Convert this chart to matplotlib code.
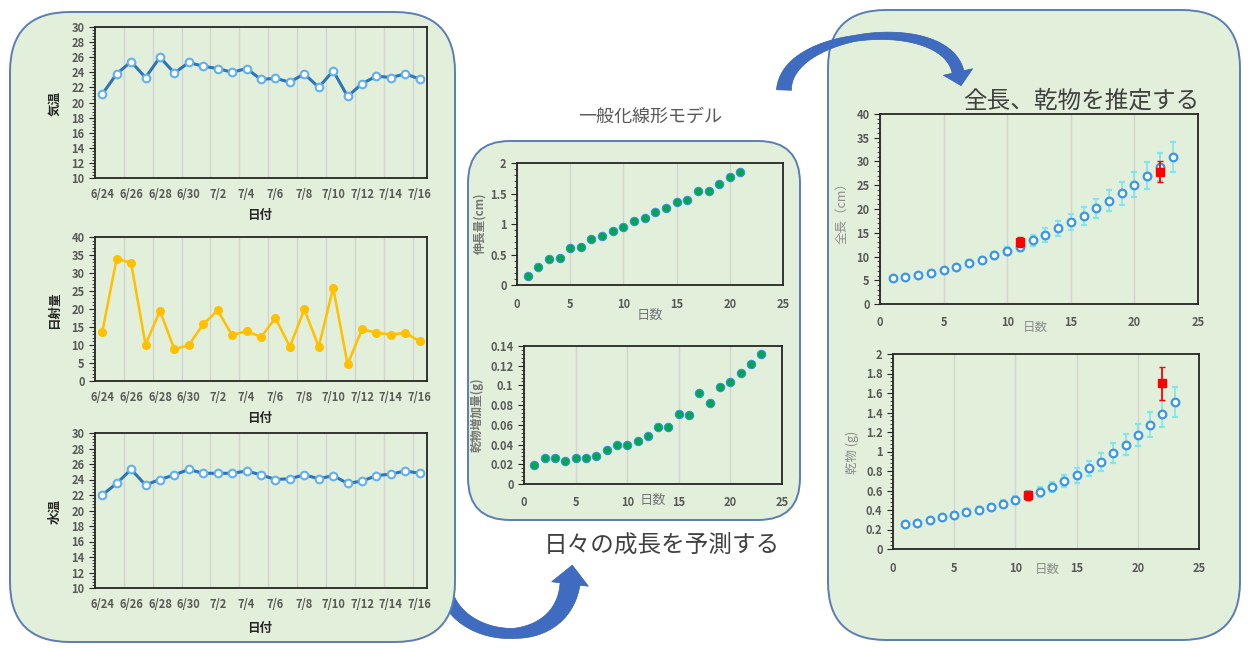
import numpy as np
import matplotlib
matplotlib.use('Agg')
import matplotlib.pyplot as plt
from matplotlib.patches import FancyBboxPatch, Polygon
from matplotlib.ticker import MultipleLocator, AutoMinorLocator, FuncFormatter

plt.rcParams['font.family'] = ['Noto Sans CJK JP', 'DejaVu Sans']

W, H = 1249, 648

# daily weather 6/24 - 7/16
dates = ['6/24', '6/25', '6/26', '6/27', '6/28', '6/29', '6/30', '7/1', '7/2',
         '7/3', '7/4', '7/5', '7/6', '7/7', '7/8', '7/9', '7/10', '7/11',
         '7/12', '7/13', '7/14', '7/15', '7/16']
air_temp = [21.1, 23.8, 25.4, 23.3, 26.0, 23.9, 25.3, 24.8, 24.5, 24.0, 24.5,
            23.05, 23.2, 22.7, 23.8, 22.0, 24.2, 20.8, 22.5, 23.5, 23.3, 23.8, 23.1]
solar = [13.5, 34.0, 32.8, 10.1, 19.5, 8.8, 10.0, 15.8, 19.6, 12.7, 13.9, 12.2,
         17.5, 9.5, 19.9, 9.5, 25.9, 4.6, 14.4, 13.4, 12.9, 13.4, 11.0]
water_temp = [22.0, 23.5, 25.3, 23.3, 24.0, 24.6, 25.3, 24.8, 24.8, 24.8, 25.1,
              24.6, 24.0, 24.1, 24.6, 24.1, 24.5, 23.5, 23.8, 24.5, 24.7, 25.1, 24.8]

# GLM daily growth
elong_days = list(range(1, 22))
elong = [0.15, 0.30, 0.425, 0.447, 0.60, 0.627, 0.747, 0.807, 0.883, 0.954, 1.05,
         1.106, 1.19, 1.264, 1.36, 1.395, 1.548, 1.548, 1.66, 1.77, 1.85]
gain_days = list(range(1, 24))
dw_gain = [0.0196, 0.0267, 0.0267, 0.023, 0.0267, 0.026, 0.0284, 0.0342, 0.0399,
           0.0399, 0.044, 0.0484, 0.0582, 0.0575, 0.0707, 0.070, 0.0927, 0.0819,
           0.0985, 0.1032, 0.1124, 0.1215, 0.132]

# estimated total length / dry weight
est_days = list(range(1, 24))
est_len = [5.4, 5.7, 6.05, 6.5, 7.2, 7.7, 8.6, 9.3, 10.3, 11.25, 12.1, 13.4, 14.5,
           15.9, 17.2, 18.6, 20.2, 21.7, 23.3, 25.1, 27.0, 28.8, 30.9]
est_len_err = [0.3, 0.3, 0.35, 0.4, 0.45, 0.5, 0.6, 0.65, 0.75, 0.85, 1.0, 1.2, 1.4,
               1.5, 1.7, 1.9, 2.0, 2.2, 2.4, 2.6, 2.8, 3.0, 3.2]
est_dw = [0.256, 0.27, 0.297, 0.325, 0.349, 0.376, 0.403, 0.431, 0.465, 0.503,
          0.545, 0.588, 0.636, 0.694, 0.756, 0.827, 0.892, 0.985, 1.07, 1.17,
          1.275, 1.385, 1.508]
est_dw_err = [0.02, 0.02, 0.02, 0.025, 0.025, 0.03, 0.03, 0.03, 0.035, 0.04, 0.045,
              0.05, 0.055, 0.06, 0.075, 0.08, 0.09, 0.1, 0.105, 0.115, 0.13, 0.135, 0.15]
obs_days = [11, 22]
obs_len = [13.0, 27.8]
obs_len_err = [1.0, 2.2]
obs_dw = [0.55, 1.70]
obs_dw_err = [0.05, 0.17]

GREEN = '#e2efda'
EDGE = '#5b7db5'
ARROW = '#3f6cc0'
TICK = '#595959'

fig = plt.figure(figsize=(W / 100, H / 100), dpi=100)
bg = fig.add_axes([0, 0, 1, 1], zorder=0)
bg.set_xlim(0, W)
bg.set_ylim(H, 0)
bg.axis('off')


def panel(x0, y0, x1, y1, r):
    bg.add_patch(FancyBboxPatch((x0, y0), x1 - x0, y1 - y0,
                                boxstyle=f"round,pad=0,rounding_size={r}",
                                fc=GREEN, ec=EDGE, lw=1.4, zorder=2))


def bent_arrow(pts, wt, ww, head_w, head_len, z):
    p0, p1, p2, p3 = [np.array(p, float) for p in pts]
    t = np.linspace(0, 1, 100)[:, None]
    c = (1 - t)**3 * p0 + 3 * (1 - t)**2 * t * p1 + 3 * (1 - t) * t**2 * p2 + t**3 * p3
    d = 3 * (1 - t)**2 * (p1 - p0) + 6 * (1 - t) * t * (p2 - p1) + 3 * t**2 * (p3 - p2)
    d /= np.linalg.norm(d, axis=1)[:, None]
    n = np.column_stack([-d[:, 1], d[:, 0]])
    w = np.interp(t[:, 0], wt, ww)[:, None] / 2
    left, right = c + n * w, c - n * w
    tip = p3 + d[-1] * head_len
    hl = p3 + n[-1] * head_w / 2
    hr = p3 - n[-1] * head_w / 2
    poly = np.vstack([left, hl, tip, hr, right[::-1]])
    bg.add_patch(Polygon(poly, closed=True, fc=ARROW, ec='#3460ad', lw=0.5, zorder=z))


bent_arrow([(448, 598), (468, 645), (562, 650), (570, 584)],
           [0, 0.5, 1], [13, 10, 20], 37, 19, 1)
panel(10, 12, 455, 642, 60)
panel(468, 141, 800, 520, 42)
panel(828, 10, 1240, 640, 58)
bent_arrow([(784, 90), (786, 30), (945, 14), (958, 72)],
           [0, 0.45, 1], [15, 6, 12], 30, 14, 3)

bg.text(650, 117, '一般化線形モデル', fontsize=13, color=TICK, ha='center', va='center')
bg.text(662, 546, '日々の成長を予測する', fontsize=17, color='#404040', ha='center', va='center')
bg.text(1199, 101, '全長、乾物を推定する', fontsize=17, color='#404040', ha='right', va='center')


def px_axes(x0, y0, x1, y1):
    ax = fig.add_axes([x0 / W, 1 - y1 / H, (x1 - x0) / W, (y1 - y0) / H], zorder=5)
    ax.set_facecolor('none')
    for s in ax.spines.values():
        s.set_color('#262626')
        s.set_linewidth(1.3)
    ax.tick_params(labelsize=8, labelcolor=TICK)
    ax.tick_params(axis='y', which='major', length=4, width=0.8, color='#262626')
    ax.tick_params(axis='y', which='minor', length=2.5, width=0.6, color='#262626')
    ax.tick_params(axis='x', length=0, pad=7)
    ax.yaxis.set_minor_locator(AutoMinorLocator(5))
    ax.yaxis.set_major_formatter(FuncFormatter(lambda v, p: f'{v:g}'))
    return ax


def bold_ticks(ax):
    for lbl in ax.get_xticklabels() + ax.get_yticklabels():
        lbl.set_fontweight('bold')


def date_axes(box, values, ylim, step, **line):
    ax = px_axes(*box)
    x = np.arange(len(dates))
    ax.plot(x, values, **line)
    ax.set_xlim(-0.5, len(dates) - 0.5)
    ax.set_ylim(*ylim)
    ax.yaxis.set_major_locator(MultipleLocator(step))
    ax.set_xticks(x[::2])
    ax.set_xticklabels(dates[::2])
    ax.set_xticks(np.arange(1.5, len(dates) - 1, 2), minor=True)
    ax.tick_params(axis='x', which='minor', length=0)
    ax.grid(axis='x', which='minor', color='#d3d3d3', lw=1)
    bold_ticks(ax)
    return ax


blue_line = dict(color='#2e75b6', lw=2.2, marker='o', ms=5.5, mfc='white',
                 mec='#62b0ee', mew=1.5)
date_axes((95, 27, 427, 178), air_temp, (10, 30), 2, **blue_line)
date_axes((95, 237, 427, 381), solar, (0, 40), 5,
          color='#ffc000', lw=1.8, marker='o', ms=5.5)
date_axes((95, 433, 427, 588), water_temp, (10, 30), 2, **blue_line)

LEFT_LBL = dict(fontsize=9, fontweight='bold', color='#262626', ha='center', va='center')
bg.text(55, 103, '気温', rotation=90, **LEFT_LBL)
bg.text(260, 215, '日付', **LEFT_LBL)
bg.text(55, 310, '日射量', rotation=90, **LEFT_LBL)
bg.text(260, 418, '日付', **LEFT_LBL)
bg.text(55, 512, '水温', rotation=90, **LEFT_LBL)
bg.text(260, 628, '日付', **LEFT_LBL)


def day_axes(box, ylim, step):
    ax = px_axes(*box)
    ax.set_xlim(0, 25)
    ax.set_ylim(*ylim)
    ax.xaxis.set_major_locator(MultipleLocator(5))
    ax.yaxis.set_major_locator(MultipleLocator(step))
    ax.grid(axis='x', color='#d3d3d3', lw=1)
    ax.tick_params(axis='x', pad=9)
    bold_ticks(ax)
    return ax


dot = dict(ls='none', marker='o', ms=6, mfc='#00a651', mec='#3b8fd9', mew=0.8)
m1 = day_axes((517, 163, 783, 285), (0, 2), 0.5)
m1.plot(elong_days, elong, **dot)
m2 = day_axes((524, 346, 782, 484), (0, 0.14), 0.02)
m2.plot(gain_days, dw_gain, **dot)

MID_LBL = dict(fontsize=8.5, fontweight='bold', color='#767676', ha='center', va='center')
bg.text(480, 223, '伸長量(cm)', rotation=90, **MID_LBL)
bg.text(477, 415, '乾物増加量(g)', rotation=90, **MID_LBL)
bg.text(650, 315, '日数', fontsize=9.5, color='#767676', ha='center', va='center')
bg.text(653, 500, '日数', fontsize=9.5, color='#767676', ha='center', va='center')

est_style = dict(fmt='o', ms=5.5, mfc='#f4f9ff', mec='#3c96e6', mew=1.6,
                 ecolor='#7ee6ef', elinewidth=1.2, capsize=2.5, zorder=3)
obs_style = dict(fmt='s', ms=5.5, color='#ff0000', ecolor='#ff0000',
                 elinewidth=1.3, capsize=2.5, zorder=4)

r1 = day_axes((880, 114, 1198, 304), (0, 40), 5)
r1.errorbar(est_days, est_len, yerr=est_len_err, **est_style)
r1.errorbar(obs_days, obs_len, yerr=obs_len_err, **obs_style)
r2 = day_axes((893, 354, 1199, 549), (0, 2), 0.2)
r2.errorbar(est_days, est_dw, yerr=est_dw_err, **est_style)
r2.errorbar(obs_days, obs_dw, yerr=obs_dw_err, **obs_style)

RIGHT_LBL = dict(fontsize=9, color='#8c8c8c', ha='center', va='center')
bg.text(842, 210, '全長（cm）', rotation=90, **RIGHT_LBL)
bg.text(852, 452, '乾物 (g)', rotation=90, **RIGHT_LBL)
bg.text(1035, 327, '日数', **RIGHT_LBL)
bg.text(1047, 569, '日数', **RIGHT_LBL)

fig.savefig('out.png', dpi=100, facecolor='white')
